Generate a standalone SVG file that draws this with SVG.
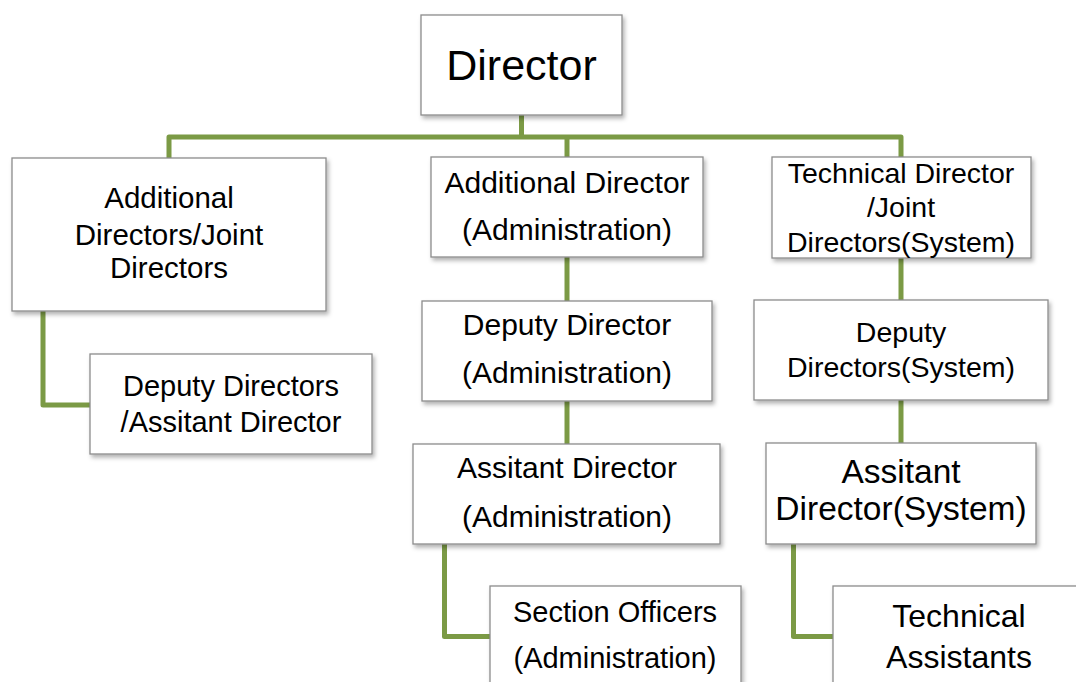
<svg xmlns="http://www.w3.org/2000/svg" width="1076" height="682" viewBox="0 0 1076 682">
<style>
.box{fill:#fff;stroke:#8c8c8c;stroke-width:1.3;filter:url(#sh)}
.t{font-family:"Liberation Sans",Arial,sans-serif;fill:#000;text-anchor:middle}
.c{fill:none;stroke:#7b9a45;stroke-width:5;stroke-linejoin:round;stroke-linecap:butt}
</style>
<defs>
<filter id="sh" x="-10%" y="-10%" width="125%" height="130%">
<feDropShadow dx="2" dy="3" stdDeviation="2" flood-color="#000" flood-opacity="0.3"/>
</filter>
</defs>
<rect width="1076" height="682" fill="#fff"/>
<g id="connectors">
<path class="c" d="M521.5 115 V137"/>
<path class="c" d="M169 158 V137 H901 V157"/>
<path class="c" d="M567 137 V157"/>
<path class="c" d="M43 311 V405 H90"/>
<path class="c" d="M567 257 V301"/>
<path class="c" d="M567 401 V444"/>
<path class="c" d="M901 258 V300"/>
<path class="c" d="M901 400 V443"/>
<path class="c" d="M444.5 544 V636.5 H490"/>
<path class="c" d="M793.5 544 V636.5 H833"/>
</g>
<g id="director">
<rect class="box" x="421" y="15" width="201" height="100"/>
<text class="t" x="521.5" y="80" font-size="43">Director</text>
</g>
<g id="additional-directors">
<rect class="box" x="12" y="158" width="314" height="153"/>
<text class="t" font-size="29.5"><tspan x="169" y="208">Additional</tspan><tspan x="169" y="245">Directors/Joint</tspan><tspan x="169" y="278">Directors</tspan></text>
</g>
<g id="deputy-directors">
<rect class="box" x="90" y="354" width="282" height="100"/>
<text class="t" font-size="29"><tspan x="231" y="396">Deputy Directors</tspan><tspan x="231" y="431.5">/Assitant Director</tspan></text>
</g>
<g id="additional-director-admin">
<rect class="box" x="431" y="157" width="272" height="100"/>
<text class="t" font-size="30"><tspan x="567" y="192.5">Additional Director</tspan><tspan x="567" y="240">(Administration)</tspan></text>
</g>
<g id="deputy-director-admin">
<rect class="box" x="422" y="301" width="290" height="100"/>
<text class="t" font-size="30"><tspan x="567" y="335">Deputy Director</tspan><tspan x="567" y="383">(Administration)</tspan></text>
</g>
<g id="assistant-director-admin">
<rect class="box" x="413" y="444" width="307" height="100"/>
<text class="t" font-size="30"><tspan x="567" y="478">Assitant Director</tspan><tspan x="567" y="526.5">(Administration)</tspan></text>
</g>
<g id="section-officers">
<rect class="box" x="490" y="586" width="251" height="120"/>
<text class="t" font-size="29"><tspan x="615" y="621.5">Section Officers</tspan><tspan x="615" y="668">(Administration)</tspan></text>
</g>
<g id="technical-director">
<rect class="box" x="772" y="157" width="259" height="101"/>
<text class="t" font-size="28.5"><tspan x="901" y="182.5">Technical Director</tspan><tspan x="901" y="217">/Joint</tspan><tspan x="901" y="251.5">Directors(System)</tspan></text>
</g>
<g id="deputy-directors-system">
<rect class="box" x="754" y="300" width="294" height="100"/>
<text class="t" font-size="28.5"><tspan x="901" y="341.5">Deputy</tspan><tspan x="901" y="377">Directors(System)</tspan></text>
</g>
<g id="assistant-director-system">
<rect class="box" x="766" y="443" width="270" height="101"/>
<text class="t" font-size="33.5"><tspan x="901" y="483">Assitant</tspan><tspan x="901" y="520">Director(System)</tspan></text>
</g>
<g id="technical-assistants">
<rect class="box" x="833" y="586" width="252" height="120"/>
<text class="t" font-size="32"><tspan x="959" y="627">Technical</tspan><tspan x="959" y="668">Assistants</tspan></text>
</g>
</svg>
